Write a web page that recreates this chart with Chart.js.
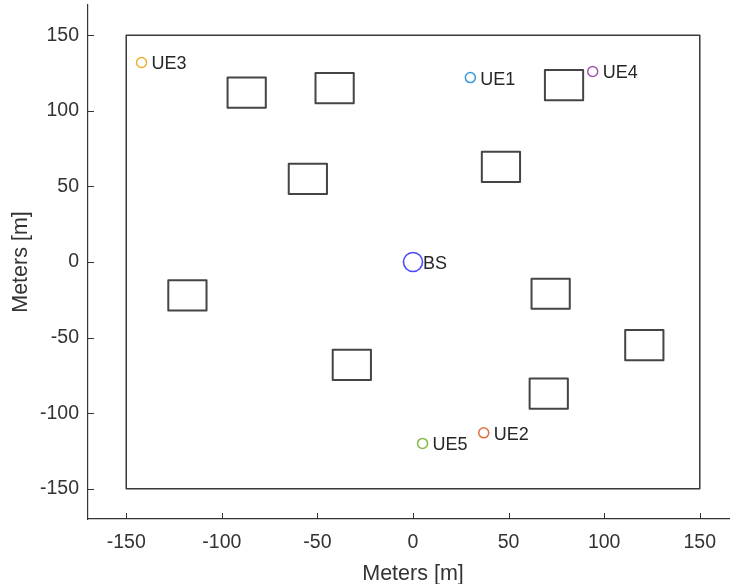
<!DOCTYPE html>
<html>
<head>
<meta charset="utf-8">
<script src="https://cdn.jsdelivr.net/npm/chart.js@4.4.0/dist/chart.umd.min.js"></script>
<style>
  html, body { margin: 0; padding: 0; background: #fff; }
  #wrap { width: 730px; height: 584px; overflow: hidden; }
</style>
</head>
<body>
<div id="wrap"><canvas id="mapChart" width="760" height="584"></canvas></div>
<script>
// simulation area (square boundary)
var areaX = [-150, 150, 150, -150, -150];
var areaY = [-150, -150, 150, 150, -150];

// building centres, every building is a 20 m x 20 m square
var buildingX = [-87, -41, -55, 79, 46, -118, 72, 121, -32, 71];
var buildingY = [112, 115, 55, 117, 63, -22, -21, -55, -68, -87];
var buildingSize = 20;

// users
var ueNames = ["UE1", "UE2", "UE3", "UE4", "UE5"];
var ueX = [30, 37, -142, 94, 5];
var ueY = [122, -113, 132, 126, -120];
var ueColors = ["#3d97d8", "#e0713f", "#ebb030", "#9c56ad", "#84b84a"];

// base station
var bsX = [0];
var bsY = [0];

var xTicks = [-150, -100, -50, 0, 50, 100, 150];
var yTicks = [-150, -100, -50, 0, 50, 100, 150];

var textColor = "#333333";
var fontFamily = "'Liberation Sans', Arial, sans-serif";

// building outlines, one dataset, polygons split by null gaps
var buildingPts = [];
buildingX.forEach(function (cx, i) {
    var cy = buildingY[i];
    var h = buildingSize / 2;
    buildingPts.push({ x: cx - h, y: cy - h }, { x: cx + h, y: cy - h },
        { x: cx + h, y: cy + h }, { x: cx - h, y: cy + h }, { x: cx - h, y: cy - h });
    buildingPts.push({ x: null, y: null });
});

var datasets = [
    {
        label: "Area",
        data: areaX.map((x, i) => ({ x: x, y: areaY[i] })),
        showLine: true,
        borderColor: "#3a3a3a",
        borderWidth: 1.5,
        borderCapStyle: "round",
        borderJoinStyle: "round",
        pointRadius: 0,
        fill: false,
    },
    {
        label: "Buildings",
        data: buildingPts,
        showLine: true,
        spanGaps: false,
        borderColor: "#454545",
        borderWidth: 2,
        borderCapStyle: "round",
        borderJoinStyle: "round",
        pointRadius: 0,
        fill: false,
    },
];

ueNames.forEach(function (name, i) {
    datasets.push({
        label: name,
        data: [{ x: ueX[i], y: ueY[i] }],
        pointStyle: "circle",
        pointRadius: 5,
        borderWidth: 1.5,
        borderColor: ueColors[i],
        backgroundColor: "rgba(0,0,0,0)",
    });
});

datasets.push({
    label: "BS",
    data: bsX.map((x, i) => ({ x: x, y: bsY[i] })),
    pointStyle: "circle",
    pointRadius: 9.5,
    borderWidth: 1.6,
    borderColor: "#4a4aff",
    backgroundColor: "rgba(0,0,0,0)",
});

// names next to the markers + inward tick marks (MATLAB look)
var markerLabels = {
    id: "markerLabels",
    afterDatasetsDraw: function (chart) {
        var ctx = chart.ctx;
        var xs = chart.scales.x, ys = chart.scales.y;
        ctx.save();
        ctx.font = "18px " + fontFamily;
        ctx.fillStyle = "#262626";
        ctx.textAlign = "left";
        ctx.textBaseline = "middle";
        ueNames.forEach(function (name, i) {
            ctx.fillText(name, xs.getPixelForValue(ueX[i]) + 10, ys.getPixelForValue(ueY[i]) + 2);
        });
        bsX.forEach(function (x, i) {
            ctx.fillText("BS", xs.getPixelForValue(x) + 10, ys.getPixelForValue(bsY[i]) + 2);
        });
        ctx.restore();
    },
    afterDraw: function (chart) {
        var ctx = chart.ctx;
        var xs = chart.scales.x, ys = chart.scales.y;
        var area = chart.chartArea;
        ctx.save();
        ctx.strokeStyle = "#333";
        ctx.lineWidth = 1;
        ctx.beginPath();
        xTicks.forEach(function (v) {
            var px = Math.round(xs.getPixelForValue(v)) + 0.5;
            ctx.moveTo(px, area.bottom);
            ctx.lineTo(px, area.bottom - 6);
        });
        yTicks.forEach(function (v) {
            var py = Math.round(ys.getPixelForValue(v)) + 0.5;
            ctx.moveTo(area.left, py);
            ctx.lineTo(area.left + 6, py);
        });
        ctx.stroke();
        ctx.restore();
    },
};

var mapChart = new Chart(document.getElementById("mapChart"), {
    type: "scatter",
    data: { datasets: datasets },
    plugins: [markerLabels],
    options: {
        responsive: false,
        animation: false,
        layout: { autoPadding: false, padding: { top: 5, right: 22, left: 0, bottom: 0 } },
        plugins: {
            legend: { display: false },
            tooltip: { enabled: false },
        },
        scales: {
            x: {
                type: "linear",
                min: -170,
                max: 170,
                afterBuildTicks: function (scale) {
                    scale.ticks = xTicks.map((v) => ({ value: v }));
                },
                afterFit: function (scale) {
                    scale.height = 65;
                    scale.paddingLeft = 0;
                    scale.paddingRight = 0;
                },
                grid: { display: false, drawTicks: false },
                border: { display: true, color: "#333", width: 1.2 },
                ticks: {
                    color: textColor,
                    font: { family: fontFamily, size: 19.5 },
                    padding: 12,
                    maxRotation: 0,
                    autoSkip: false,
                },
                title: {
                    display: true,
                    text: "Meters [m]",
                    color: textColor,
                    font: { family: fontFamily, size: 21.5 },
                    padding: { top: 0, bottom: -3 },
                },
            },
            y: {
                type: "linear",
                min: -170,
                max: 170,
                afterBuildTicks: function (scale) {
                    scale.ticks = yTicks.map((v) => ({ value: v }));
                },
                afterFit: function (scale) {
                    scale.width = 88;
                    scale.paddingTop = 0;
                    scale.paddingBottom = 0;
                },
                grid: { display: false, drawTicks: false },
                border: { display: true, color: "#333", width: 1.2 },
                ticks: {
                    color: textColor,
                    font: { family: fontFamily, size: 19.5 },
                    padding: 9,
                    autoSkip: false,
                },
                title: {
                    display: true,
                    text: "Meters [m]",
                    color: textColor,
                    font: { family: fontFamily, size: 21.5 },
                    padding: { top: 8, bottom: 0 },
                },
            },
        },
    },
});
</script>
</body>
</html>
